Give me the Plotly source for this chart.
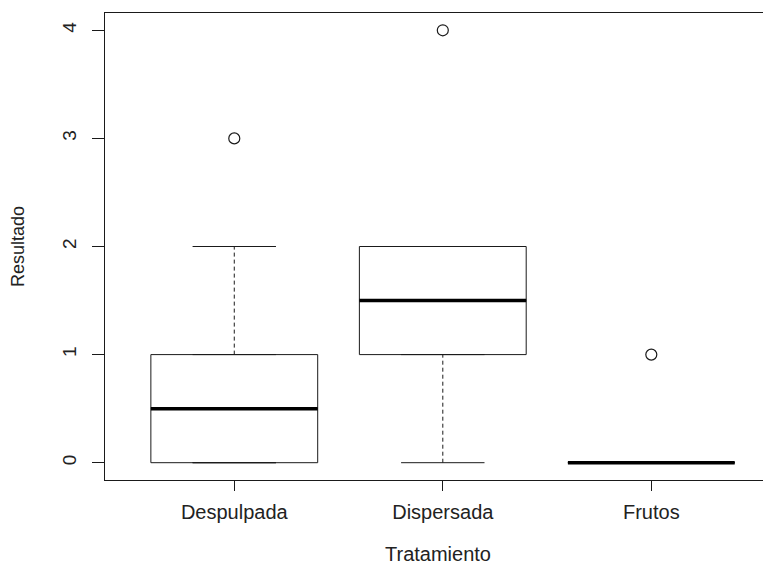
import plotly.graph_objects as go

categories = ["Despulpada", "Dispersada", "Frutos"]
q1 = [0, 1, 0]
median = [0.5, 1.5, 0]
q3 = [1, 2, 0]
whisker_low = [0, 0, 0]
whisker_high = [2, 2, 0]
outlier_x = ["Despulpada", "Dispersada", "Frutos"]
outlier_y = [3, 4, 1]
y_ticks = [0, 1, 2, 3, 4]

pos = {c: i + 1 for i, c in enumerate(categories)}
BOXW = 0.8
CAPW = 0.4
LC = "#1a1a1a"

fig = go.Figure()

# whiskers (dashed)
wx, wy = [], []
for c, lo, hi, a, b in zip(categories, whisker_low, whisker_high, q1, q3):
    p = pos[c]
    wx += [p, p, None, p, p, None]
    wy += [lo, a, None, b, hi, None]
fig.add_trace(go.Scatter(x=wx, y=wy, mode="lines",
                         line=dict(color=LC, width=1, dash="4px,3px"),
                         hoverinfo="skip", showlegend=False))
# caps
cx, cy = [], []
for c, lo, hi in zip(categories, whisker_low, whisker_high):
    p = pos[c]
    cx += [p - CAPW / 2, p + CAPW / 2, None, p - CAPW / 2, p + CAPW / 2, None]
    cy += [lo, lo, None, hi, hi, None]
fig.add_trace(go.Scatter(x=cx, y=cy, mode="lines",
                         line=dict(color=LC, width=1),
                         hoverinfo="skip", showlegend=False))
# boxes
fig.add_trace(go.Box(x=[pos[c] for c in categories], q1=q1, median=median, q3=q3,
                     lowerfence=q1, upperfence=q3, width=BOXW,
                     fillcolor="white", line=dict(color=LC, width=1),
                     boxpoints=False, showlegend=False, hoverinfo="skip"))
# medians (thick)
mx, my = [], []
for c, m in zip(categories, median):
    p = pos[c]
    mx += [p - BOXW / 2, p + BOXW / 2, None]
    my += [m, m, None]
fig.add_trace(go.Scatter(x=mx, y=my, mode="lines",
                         line=dict(color="black", width=3.5),
                         hoverinfo="skip", showlegend=False))
# outliers
fig.add_trace(go.Scatter(x=[pos[c] for c in outlier_x], y=outlier_y, mode="markers",
                         marker=dict(symbol="circle-open", size=11,
                                     color=LC, line=dict(width=1.2)),
                         hoverinfo="skip", showlegend=False))

fig.update_layout(
    width=763, height=557,
    margin=dict(l=97, r=0, t=5, b=85, autoexpand=False),
    paper_bgcolor="white", plot_bgcolor="white",
    font=dict(family="Liberation Sans, Arial, sans-serif", color="#222", size=18),
    xaxis=dict(range=[0.38, 3.574], tickmode="array", automargin=True,
               tickvals=[pos[c] for c in categories], ticktext=categories,
               showgrid=False, zeroline=False, showline=True, mirror=True,
               linecolor=LC, linewidth=1, ticks="outside", ticklen=10,
               tickcolor=LC, tickfont=dict(size=20), ticklabelstandoff=4,
               title=dict(text="Tratamiento", font=dict(size=20), standoff=28)),
    yaxis=dict(range=[-0.16, 4.16], tickmode="array", tickvals=y_ticks, automargin=False,
               ticktext=[str(v) for v in y_ticks], tickangle=-90,
               showgrid=False, zeroline=False, showline=True, mirror=False,
               linecolor=LC, linewidth=1, ticks="outside", ticklen=12,
               tickcolor=LC, tickfont=dict(size=19), ticklabelstandoff=8,
               title=dict(text="Resultado", font=dict(size=18), standoff=30)),
)

fig.write_html("out.html")
